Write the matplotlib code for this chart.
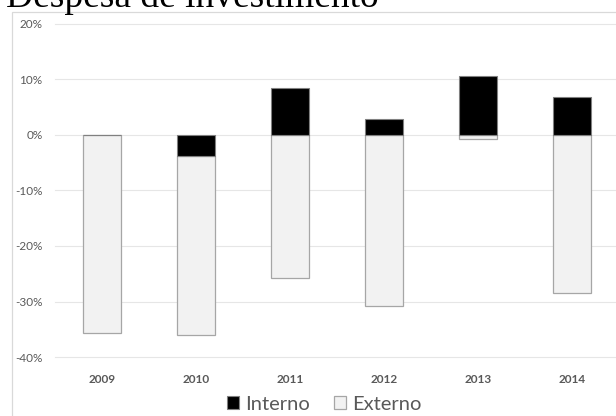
import matplotlib
matplotlib.use("Agg")
import matplotlib.pyplot as plt
from matplotlib.patches import Rectangle, Patch
from matplotlib.ticker import FuncFormatter

years = ["2009", "2010", "2011", "2012", "2013", "2014"]
interno = [0.0, -3.7, 8.4, 2.8, 10.6, 6.9]
externo = [-35.6, -32.3, -25.7, -30.8, -0.8, -28.5]
y_ticks = [20, 10, 0, -10, -20, -30, -40]

W, H = 616, 416
fig = plt.figure(figsize=(W / 100, H / 100), dpi=100)
fig.patch.set_facecolor("white")

font = ["Lato", "DejaVu Sans"]
grey_txt = "#595959"

# chart frame
fig.patches.append(Rectangle((12 / W, -0.1), 1.2, 1 - 12 / H + 0.1,
                             transform=fig.transFigure, fill=False,
                             edgecolor="#d9d9d9", linewidth=0.9, zorder=0))

# title
fig.text(6 / W, 1 - 7 / H, "Despesa de investimento", family="Liberation Serif",
         fontsize=27, color="black", ha="left", va="baseline")

ax = fig.add_axes([55 / W, 1 - 357 / H, 564 / W, (357 - 24) / H])
ax.set_facecolor("none")
x = list(range(len(years)))
width = 0.4

# Interno stacks from zero; Externo sits below any negative Interno part
ext_base = [min(v, 0.0) for v in interno]
ax.bar(x, interno, width, color="black", edgecolor="#808080", linewidth=0.8,
       zorder=3, label="Interno")
ax.bar(x, externo, width, bottom=ext_base, color="#f2f2f2", edgecolor="#a6a6a6",
       linewidth=0.9, zorder=2, label="Externo")

ax.set_xlim(-0.5, 5.5)
ax.set_ylim(-40, 20)
ax.set_yticks(y_ticks)
ax.yaxis.set_major_formatter(FuncFormatter(lambda v, p: f"{v:.0f}%"))
ax.set_xticks(x)
ax.set_xticklabels(years)

ax.grid(axis="y", color="#e6e6e6", linewidth=0.8, zorder=0)
for gl in ax.get_ygridlines():
    gl.set_clip_on(False)
ax.set_axisbelow(True)
for s in ax.spines.values():
    s.set_visible(False)
ax.tick_params(axis="both", length=0)
ax.tick_params(axis="y", pad=9, labelsize=8.5, labelcolor=grey_txt)
ax.tick_params(axis="x", pad=12, labelsize=8.5, labelcolor=grey_txt)
for lbl in ax.get_yticklabels():
    lbl.set_family(font)
for lbl in ax.get_xticklabels():
    lbl.set_family(font)
    lbl.set_fontweight("bold")

handles = [Patch(facecolor="black", edgecolor="#808080", linewidth=0.8),
           Patch(facecolor="#f2f2f2", edgecolor="#a6a6a6", linewidth=0.9)]
leg = fig.legend(handles, ["Interno", "Externo"], loc="center",
                 bbox_to_anchor=(324 / W, 1 - 404 / H), ncol=2, frameon=False,
                 handlelength=0.6, handleheight=0.6, handletextpad=0.3,
                 columnspacing=1.2, prop={"family": font, "size": 14.5})
for t in leg.get_texts():
    t.set_color(grey_txt)

fig.savefig("out.png", dpi=100)
